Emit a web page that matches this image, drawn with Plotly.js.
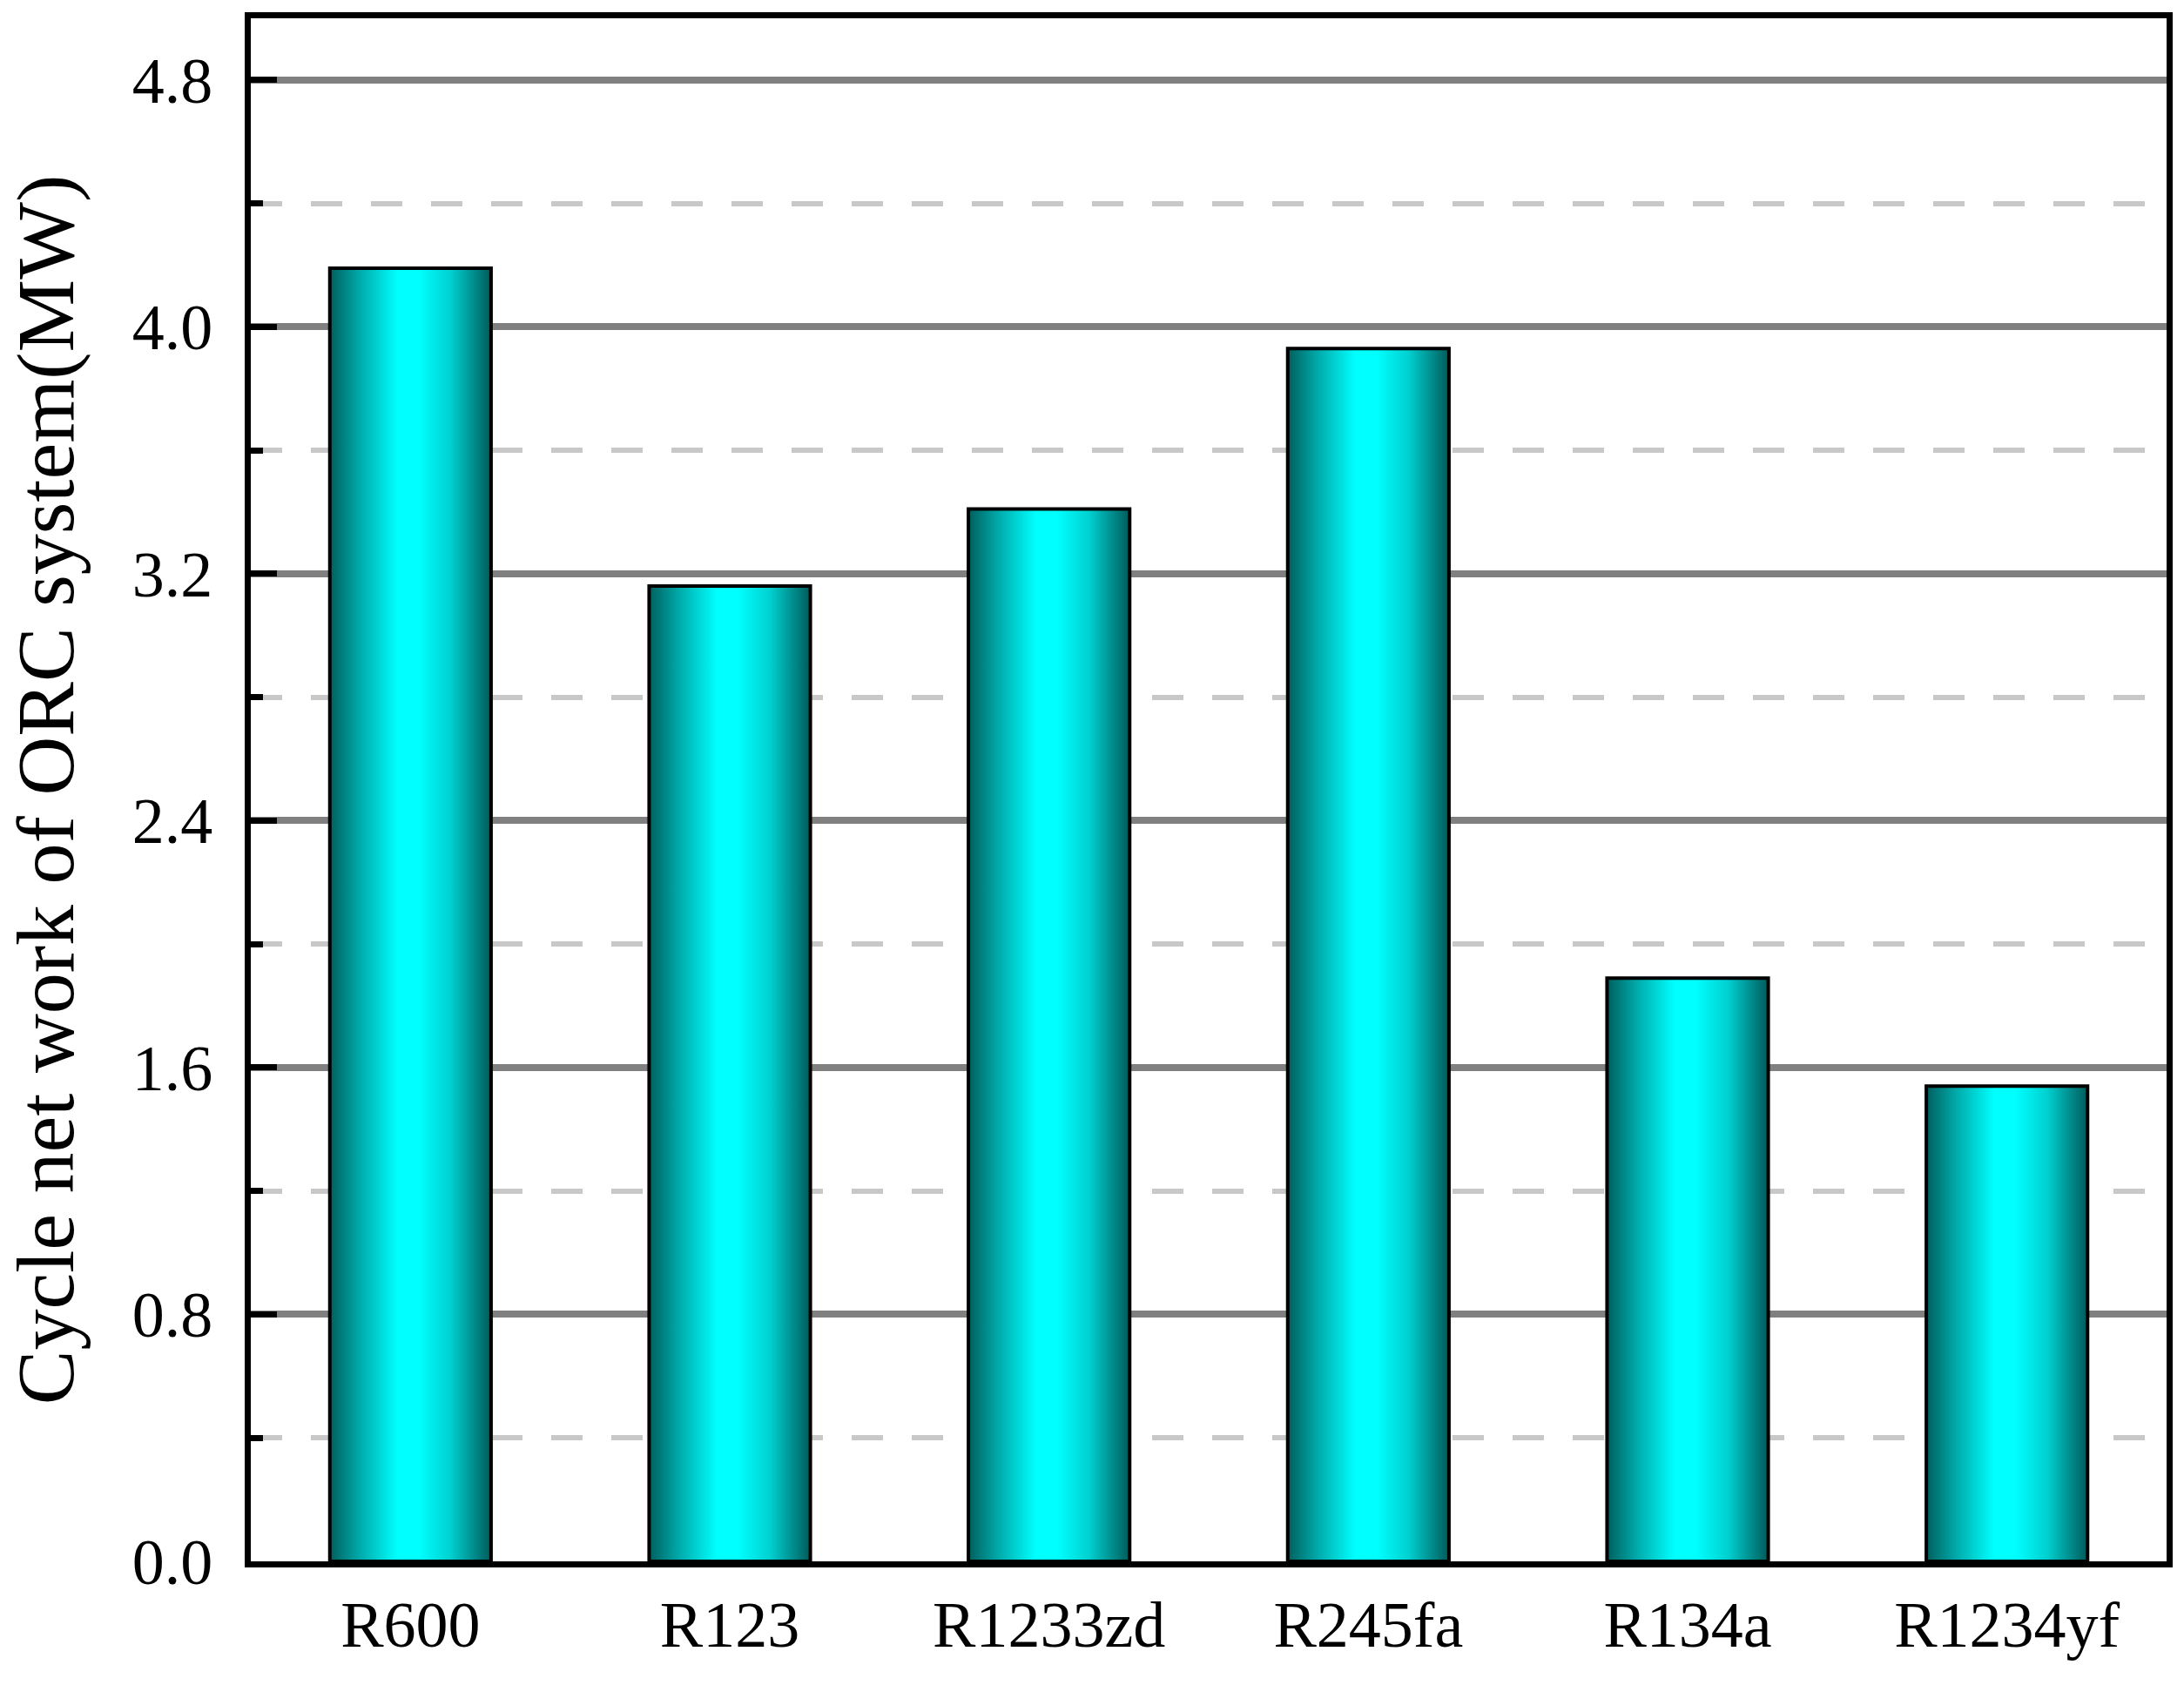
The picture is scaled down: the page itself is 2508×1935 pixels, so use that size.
<!DOCTYPE html>
<html>
<head>
<meta charset="utf-8">
<script src="https://cdn.plot.ly/plotly-3.0.1.min.js"></script>
<style>
  html, body { margin: 0; padding: 0; background: #fff; }
  #chart { width: 2508px; height: 1935px; }
</style>
</head>
<body>
<div id="chart"></div>
<script>
// working fluids and cycle net work (MW)
const fluids = ['R600', 'R123', 'R1233zd', 'R245fa', 'R134a', 'R1234yf'];
const netWork = [4.19, 3.16, 3.41, 3.93, 1.89, 1.54];
const yTickVals = [0.0, 0.8, 1.6, 2.4, 3.2, 4.0, 4.8];
const yTickText = ['0.0', '0.8', '1.6', '2.4', '3.2', '4.0', '4.8'];
const yMinorVals = [0.4, 1.2, 2.0, 2.8, 3.6, 4.4];

const serif = 'Liberation Serif, Times New Roman, serif';

const trace = {
    x: fluids,
    y: netWork,
    type: 'bar',
    marker: {
        color: '#00ffff',
        line: {color: '#000000', width: 4}
    },
    hoverinfo: 'none'
};

const layout = {
    width: 2508,
    height: 1935,
    margin: {l: 288, r: 20, t: 21, b: 142},
    paper_bgcolor: '#ffffff',
    plot_bgcolor: '#ffffff',
    bargap: 0.495,
    showlegend: false,
    font: {family: serif, size: 74, color: '#000'},
    xaxis: {
        type: 'category',
        showline: true,
        linecolor: '#000',
        linewidth: 7,
        mirror: true,
        ticks: '',
        showgrid: false,
        zeroline: false,
        ticklabelstandoff: 2,
        tickfont: {family: serif, size: 74, color: '#000'}
    },
    yaxis: {
        range: [0, 5.0],
        tickmode: 'array',
        tickvals: yTickVals,
        ticktext: yTickText,
        showline: true,
        linecolor: '#000',
        linewidth: 7,
        mirror: true,
        ticks: 'inside',
        ticklen: 30,
        tickwidth: 7,
        tickcolor: '#000',
        showgrid: true,
        gridcolor: '#808080',
        gridwidth: 8,
        zeroline: false,
        ticklabelstandoff: 22,
        tickfont: {family: serif, size: 74, color: '#000'},
        minor: {
            tickmode: 'array',
            tickvals: yMinorVals,
            ticks: 'inside',
            ticklen: 14,
            tickwidth: 7,
            tickcolor: '#000',
            showgrid: true,
            gridcolor: '#c8c8c8',
            gridwidth: 6,
            griddash: '36px,33px'
        },
        title: {
            text: 'Cycle net work of ORC system(MW)',
            font: {family: serif, size: 94, color: '#000'},
            standoff: 44
        },
        automargin: false
    }
};

const gd = document.getElementById('chart');
Plotly.newPlot(gd, [trace], layout, {staticPlot: true}).then(() => {
    // horizontal shaded fill: dark teal at the edges, cyan in the middle
    const svg = gd.querySelector('svg.main-svg');
    const ns = 'http://www.w3.org/2000/svg';
    let defs = svg.querySelector('defs');
    if (!defs) {
        defs = document.createElementNS(ns, 'defs');
        svg.insertBefore(defs, svg.firstChild);
    }
    const grad = document.createElementNS(ns, 'linearGradient');
    grad.setAttribute('id', 'barShade');
    grad.setAttribute('x1', '0');
    grad.setAttribute('x2', '1');
    grad.setAttribute('y1', '0');
    grad.setAttribute('y2', '0');
    const stops = [
        [0, '#005f5e'],
        [0.18, '#00a8a8'],
        [0.42, '#00ffff'],
        [0.55, '#00ffff'],
        [0.75, '#00d0d0'],
        [1, '#005a5a']
    ];
    stops.forEach(([off, col]) => {
        const s = document.createElementNS(ns, 'stop');
        s.setAttribute('offset', off);
        s.setAttribute('stop-color', col);
        grad.appendChild(s);
    });
    defs.appendChild(grad);
    gd.querySelectorAll('.trace.bars .point path').forEach((p) => {
        p.style.fill = 'url(#barShade)';
    });
});
</script>
</body>
</html>
